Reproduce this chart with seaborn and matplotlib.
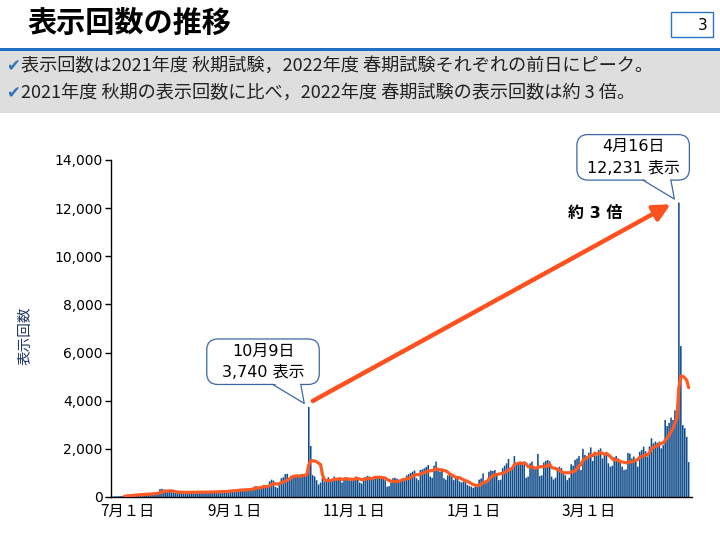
import numpy as np
import pandas as pd
import matplotlib
matplotlib.use("Agg")
import matplotlib.pyplot as plt
import matplotlib.transforms as mtransforms
from matplotlib.patches import FancyBboxPatch, Polygon, Rectangle
from matplotlib.lines import Line2D
import seaborn as sns

# ---------------- data (daily page views, 2021-07-01 .. 2022-04-21) ----------------
start_date = "2021-07-01"
jul = [20, 30, 25, 40, 35, 45, 55, 60, 70, 80, 90, 100, 95, 110, 120, 105, 125, 140, 120, 130,
       150, 160, 170, 180, 330, 340, 310, 230, 200, 210, 190]
aug = [200, 180, 210, 190, 220, 170, 160, 200, 210, 230, 190, 180, 220, 200, 170, 210, 230, 220,
       200, 240, 190, 180, 230, 250, 240, 260, 220, 200, 270, 290, 280]
sep = [300, 280, 320, 290, 260, 310, 340, 320, 350, 360, 430, 450, 400, 380, 450, 500, 420, 470,
       650, 720, 680, 420, 380, 560, 780, 820, 950, 960, 700, 880]
oct_ = [900, 850, 920, 880, 950, 900, 940, 980, 3740, 2120, 910, 850, 700, 520, 600, 800, 650, 720,
        820, 650, 700, 850, 780, 720, 800, 600, 780, 820, 750, 680, 720]
nov = [780, 850, 820, 600, 560, 800, 830, 880, 850, 790, 820, 760, 800, 850, 820, 750, 700, 430,
       450, 600, 780, 800, 760, 720, 700, 690, 720, 900, 950, 1000]
dec = [1050, 1100, 780, 700, 1120, 1150, 1190, 1250, 1330, 850, 800, 1300, 1470, 1100, 1050, 1190,
       780, 720, 900, 950, 850, 700, 800, 750, 650, 600, 640, 620, 500, 450, 430]
jan = [380, 420, 500, 720, 770, 980, 570, 600, 1050, 1100, 1080, 1120, 1000, 700, 720, 1200, 1300,
       1400, 1580, 1120, 1150, 1700, 1400, 1450, 1470, 1420, 1380, 800, 850, 1400, 1470]
feb = [1190, 1200, 1790, 870, 900, 1430, 1500, 1540, 1480, 850, 730, 800, 1120, 1260, 1200, 1050,
       900, 700, 800, 1360, 1300, 1540, 1600, 1700, 1120, 2000, 1750, 1700]
mar = [1840, 2060, 1500, 1880, 1700, 1950, 2020, 1600, 1790, 1750, 1400, 1260, 1300, 1650, 1700,
       1600, 1450, 1260, 1120, 1150, 1830, 1800, 1600, 1680, 1540, 1260, 1880, 1950, 2090, 1900, 1680]
apr = [2100, 2440, 2230, 2300, 2250, 2300, 2020, 2150, 3200, 2950, 3080, 3300, 3200, 3600, 3500,
       12231, 6270, 2990, 2860, 2500, 1450]

views = jul + aug + sep + oct_ + nov + dec + jan + feb + mar + apr
ma_window = 7

tick_dates = ["2021-07-01", "2021-09-01", "2021-11-01", "2022-01-01", "2022-03-01"]
tick_labels = ["7月１日", "9月１日", "11月１日", "1月１日", "3月１日"]
y_ticks = [0, 2000, 4000, 6000, 8000, 10000, 12000, 14000]

peak_dates = ["2021-10-09", "2022-04-16"]
peak_titles = ["10月9日", "4月16日"]
peak_texts = ["3,740 表示", "12,231 表示"]

title = "表示回数の推移"
page_no = "3"
bullets = ["表示回数は2021年度 秋期試験，2022年度 春期試験それぞれの前日にピーク。",
           "2021年度 秋期の表示回数に比べ，2022年度 春期試験の表示回数は約 3 倍。"]
ratio_text = "約 3 倍"
y_label = "表示回数"

# ---------------- frame ----------------
dates = pd.date_range(start_date, periods=len(views), freq="D")
df = pd.DataFrame({"date": dates, "views": views})
df["day"] = np.arange(len(df))
df["ma"] = df["views"].rolling(ma_window).mean()

def day_of(d):
    return int((pd.Timestamp(d) - pd.Timestamp(start_date)).days)

sns.set_theme(style="white")
plt.rcParams["font.family"] = ["Noto Sans CJK JP", "DejaVu Sans"]

W, H = 720, 540
fig = plt.figure(figsize=(7.2, 5.4), dpi=100)

def fx(px):
    return px / W

def fy(py):
    return 1 - py / H

# header
fig.text(fx(28), fy(23), title, fontsize=21, fontweight="bold", color="black",
         ha="left", va="center")
fig.patches.append(Rectangle((fx(671), fy(37)), 42 / W, 25 / H, transform=fig.transFigure,
                             fill=False, ec="#2f72c8", lw=1))
fig.text(fx(708), fy(25), page_no, fontsize=11, color="black", ha="right", va="center",
         family=["DejaVu Sans"])
fig.patches.append(Rectangle((0, fy(113)), 1, 63 / H, transform=fig.transFigure,
                             color="#dedede", lw=0, zorder=0))
fig.patches.append(Rectangle((0, fy(51)), 1, 3 / H, transform=fig.transFigure,
                             color="#1f6fc5", lw=0, zorder=1))
for i, b in enumerate(bullets):
    yy = fy(66 + 27 * i)
    fig.text(fx(6), yy, "✔", fontsize=12, color="#2e75b6", ha="left", va="center",
             family=["DejaVu Sans"])
    fig.text(fx(21), yy, b, fontsize=13.1, color="#222222", ha="left", va="center")

# ---------------- chart ----------------
ax = fig.add_axes([fx(111), fy(497), (692 - 111) / W, (497 - 160) / H])
sns.barplot(data=df, x="day", y="views", color="#0f4c8a", saturation=1, width=0.8,
            errorbar=None, ax=ax, zorder=2, linewidth=0, edgecolor="none")
for p in ax.patches:
    p.set_snap(False)
sns.lineplot(data=df, x="day", y="ma", color="#ff5a23", lw=2.3, ax=ax, zorder=3)

ax.set_xlim(-1.0, 295.7)
ax.set_ylim(0, 14000)
ax.set_yticks(y_ticks, labels=[f"{v:,}" for v in y_ticks])
ax.set_xticks([day_of(d) for d in tick_dates], labels=tick_labels)
ax.tick_params(axis="y", left=True, length=4, width=1, color="black", pad=2,
               labelsize=10, labelcolor="black")
ax.tick_params(axis="x", bottom=False, length=0, pad=4, labelsize=11, labelcolor="black")
for lab in ax.get_yticklabels():
    lab.set_fontfamily("DejaVu Sans")
for s in ["top", "right"]:
    ax.spines[s].set_visible(False)
for s in ["left", "bottom"]:
    ax.spines[s].set_color("black")
    ax.spines[s].set_linewidth(1)
ax.set_xlabel("")
ax.set_ylabel(y_label, fontsize=10.5, color="#1f3864")
ax.yaxis.set_label_coords((33 - 111) / 581, (497 - 336) / 337)
ax.grid(False)

offset = mtransforms.ScaledTranslation(14 / 100, 0, fig.dpi_scale_trans)
first = ax.get_xticklabels()[0]
first.set_transform(first.get_transform() + offset)

# ---------------- callouts ----------------
edge = "#3a68a6"
def anchor_trans(xd, yd):
    return mtransforms.Affine2D().scale(1, -1) + mtransforms.ScaledTranslation(xd, yd, ax.transData)

trs = []
for d, t1, t2 in zip(peak_dates, peak_titles, peak_texts):
    xd = day_of(d)
    yd = df.loc[xd, "views"]
    tr = anchor_trans(xd, yd)
    trs.append(tr)
    L, R, T, B = -102, 10.5, -68, -22.5
    bl, br, tip = -36, -8, (-4.5, -3.5)
    box = FancyBboxPatch((L, T), R - L, B - T, boxstyle="round,pad=0,rounding_size=11",
                         transform=tr, fc="white", ec=edge, lw=0.9, zorder=5, clip_on=False)
    ax.add_patch(box)
    ax.add_patch(Polygon([(bl + 0.6, B - 1.5), tip, (br - 0.6, B - 1.5)], closed=True,
                         transform=tr, fc="white", ec="none", zorder=6, clip_on=False))
    ax.add_line(Line2D([bl, tip[0], br], [B, tip[1], B], transform=tr, color=edge,
                       lw=0.9, zorder=7, clip_on=False))
    cx = (L + R) / 2
    ax.text(cx, T + 12, t1, transform=tr, ha="center", va="center", fontsize=11.5,
            color="black", family=["DejaVu Sans", "Noto Sans CJK JP"], zorder=8, clip_on=False)
    ax.text(cx, T + 34, t2, transform=tr, ha="center", va="center", fontsize=11.5,
            color="black", family=["DejaVu Sans", "Noto Sans CJK JP"], zorder=8, clip_on=False)

# arrow between the two peaks
ax.annotate("", xy=(-8.3, 1.7), xycoords=trs[1], xytext=(4, -6), textcoords=trs[0],
            arrowprops=dict(arrowstyle="-|>,head_length=1.0,head_width=0.5",
                            mutation_scale=10, lw=3.2, color="#ff5020",
                            shrinkA=0, shrinkB=0), zorder=9)
ax.text(-84, 11, ratio_text, transform=trs[1], ha="center", va="center", fontsize=11.5,
        fontweight="bold", color="black", zorder=9, family=["DejaVu Sans", "Noto Sans CJK JP"])

fig.savefig("out.png", dpi=100)
